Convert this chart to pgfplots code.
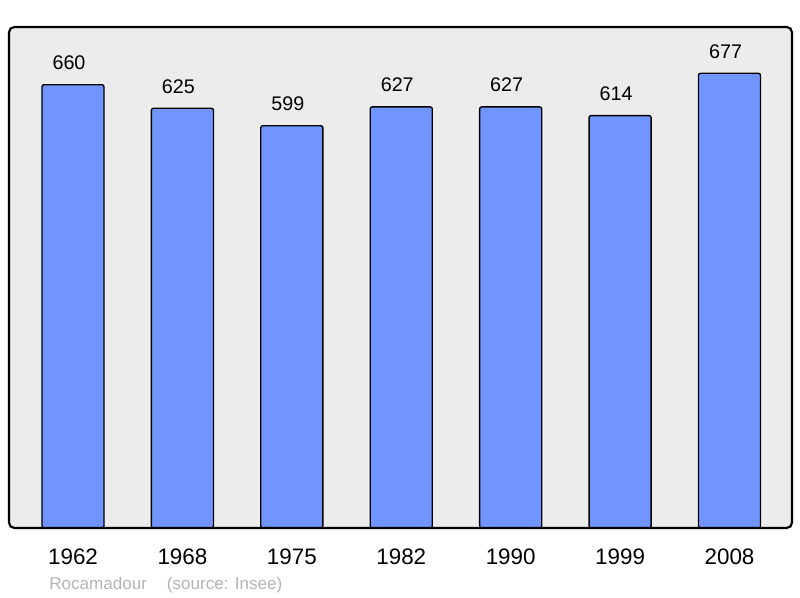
\documentclass[border=0pt]{standalone}
\usepackage{fontspec}
\setmainfont{Liberation Sans}
\usepackage{pgfplots}
\pgfplotsset{compat=1.18}
\definecolor{barblue}{HTML}{7095FF}
\definecolor{panel}{HTML}{ECECEC}
\definecolor{srcgray}{HTML}{B4B4B4}
\begin{document}
\begin{tikzpicture}[x=1pt,y=1pt]
\useasboundingbox (0,0) rectangle (600,448.5);
\begin{axis}[
  at={(6.75pt,52.5pt)}, anchor=south west,
  scale only axis, width=587.25pt, height=375.75pt,
  xmin=-0.585, xmax=6.571, ymin=0, ymax=746,
  axis line style={draw=none},
  axis background/.style={fill=panel},
  ytick=\empty,
  xtick={0,1,2,3,4,5,6},
  xticklabels={1962,1968,1975,1982,1990,1999,2008},
  major tick length=0pt,
  xticklabel style={anchor=base, yshift=-27.75pt, font=\fontsize{16.8pt}{18pt}\selectfont},
  /pgf/number format/assume math mode=true,
  /pgf/number format/1000 sep={},
  nodes near coords,
  every node near coord/.append style={anchor=base, yshift=11.25pt, xshift=-3pt, font=\fontsize{14.8pt}{17pt}\selectfont, text=black},
  clip=false,
]
\addplot[ybar, bar width=0.567, fill=barblue, draw=black, line width=1pt, rounded corners=1.5pt] coordinates {
 (0,660) (1,625) (2,599) (3,627) (4,627) (5,614) (6,677)};
\end{axis}
\draw[line width=1.6pt, rounded corners=4pt] (6.75,52.5) rectangle (594,428.25);
\node[anchor=base west, inner sep=0pt, text=srcgray, font=\fontsize{12.8pt}{15pt}\selectfont] at (36.75,6) {Rocamadour\hspace{15pt}(source: Insee)};
\end{tikzpicture}
\end{document}
